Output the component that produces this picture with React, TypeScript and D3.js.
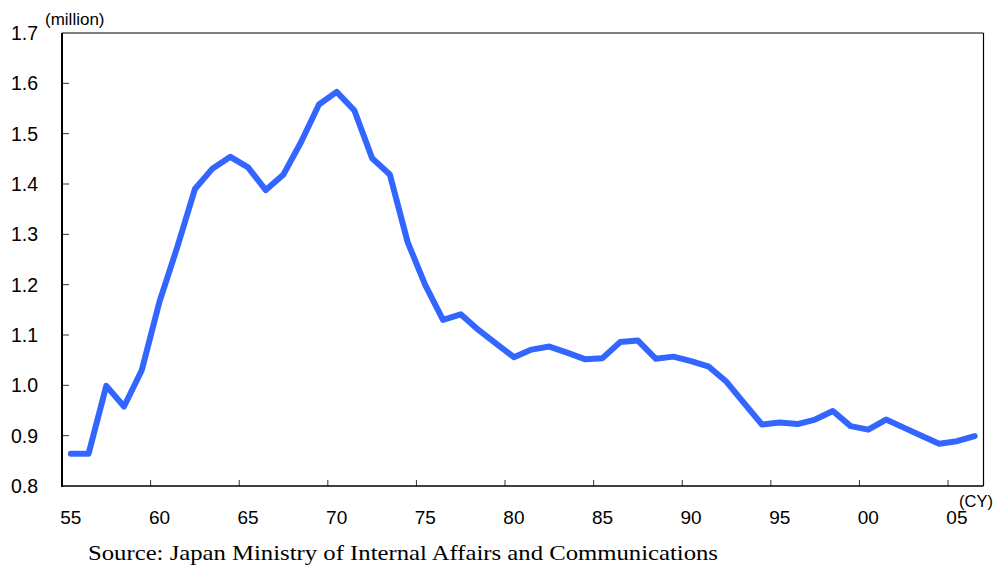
import React from "react";
import * as d3 from "d3";

const years: number[] = d3.range(1955, 2007);
const values: number[] = [
  0.864, 0.864, 0.999, 0.958, 1.03, 1.166, 1.274, 1.39, 1.431, 1.454,
  1.433, 1.388, 1.419, 1.484, 1.558, 1.583, 1.546, 1.451, 1.419, 1.285,
  1.199, 1.13, 1.141, 1.11, 1.083, 1.056, 1.071, 1.077, 1.065, 1.052,
  1.054, 1.086, 1.089, 1.053, 1.057, 1.048, 1.037, 1.007, 0.964, 0.922,
  0.926, 0.923, 0.932, 0.949, 0.919, 0.912, 0.932, 0.916, 0.9, 0.884,
  0.889, 0.899,
];
const yTicks: number[] = [0.8, 0.9, 1.0, 1.1, 1.2, 1.3, 1.4, 1.5, 1.6, 1.7];
const xLabelYears: number[] = [1955, 1960, 1965, 1970, 1975, 1980, 1985, 1990, 1995, 2000, 2005];
const xTickYears: number[] = [1960, 1965, 1970, 1975, 1980, 1985, 1990, 1995, 2000, 2005];
const yUnit = "(million)";
const xUnit = "(CY)";
const source = "Source: Japan Ministry of Internal Affairs and Communications";

const W = 997;
const H = 565;
const left = 62;
const right = 983.5;
const top = 33;
const bottom = 486;

export default function App() {
  const x = d3.scaleBand<number>().domain(years).range([left, right]).paddingInner(0).paddingOuter(0);
  const y = d3.scaleLinear().domain([0.8, 1.7]).range([bottom, top]);
  const cx = (yr: number) => (x(yr) as number) + x.bandwidth() / 2;
  const line = d3
    .line<number>()
    .x((_, i) => cx(years[i]))
    .y((d) => y(d));
  const font = "'Liberation Sans', Arial, sans-serif";
  return (
    <svg width={W} height={H} style={{ position: "absolute", left: 0, top: 0, background: "#fff" }}>
      <rect x={0} y={0} width={W} height={H} fill="#fff" />
      {/* frame */}
      <line x1={left} y1={top} x2={right} y2={top} stroke="#000" strokeWidth={1.2} />
      <line x1={right} y1={top} x2={right} y2={bottom} stroke="#000" strokeWidth={1.2} />
      {yTicks.slice(1, -1).map((t) => (
        <line key={"yt" + t} x1={left} x2={left + 7} y1={y(t)} y2={y(t)} stroke="#333" strokeWidth={1} />
      ))}
      {xTickYears.map((yr) => (
        <line key={"xt" + yr} x1={x(yr) as number} x2={x(yr) as number} y1={bottom} y2={bottom - 6} stroke="#333" strokeWidth={1} />
      ))}
      <line x1={left} y1={top} x2={left} y2={bottom + 1} stroke="#000" strokeWidth={2} />
      <line x1={left} y1={bottom} x2={right} y2={bottom} stroke="#000" strokeWidth={1.4} />
      {/* y labels */}
      {yTicks.map((t) => (
        <text key={"yl" + t} x={38} y={y(t) + 7} textAnchor="end" fontFamily={font} fontSize={19.5} fill="#000">
          {t.toFixed(1)}
        </text>
      ))}
      {/* x labels */}
      {xLabelYears.map((yr) => (
        <text key={"xl" + yr} x={cx(yr)} y={524} textAnchor="middle" fontFamily={font} fontSize={19} fill="#000">
          {String(yr).slice(2)}
        </text>
      ))}
      <text x={45} y={25} fontFamily={font} fontSize={17} fill="#000">
        {yUnit}
      </text>
      <text x={959} y={507} fontFamily={font} fontSize={16.5} fill="#000">
        {xUnit}
      </text>
      <path d={line(values) || ""} fill="none" stroke="#3366FF" strokeWidth={6} strokeLinejoin="round" strokeLinecap="round" />
      <text x={88} y={560} fontFamily="'Liberation Serif', 'Times New Roman', serif" fontSize={22} fill="#000" textLength={630} lengthAdjust="spacingAndGlyphs">
        {source}
      </text>
    </svg>
  );
}
